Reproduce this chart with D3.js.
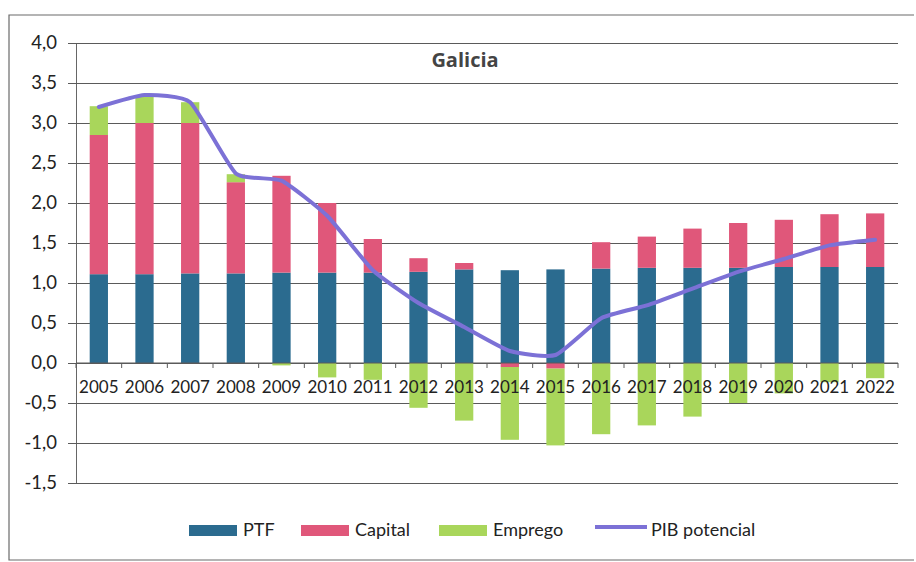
<!DOCTYPE html>
<html>
<head>
<meta charset="utf-8">
<script src="https://cdn.jsdelivr.net/npm/d3@7"></script>
<style>
  html, body { margin: 0; padding: 0; background: #fff; }
  svg { display: block; font-family: Lato, "Open Sans", sans-serif; }
</style>
</head>
<body>
<svg id="chart" width="916" height="562"></svg>
<script>
// Contributions to potential GDP growth, Galicia (percentage points)
const years = ["2005","2006","2007","2008","2009","2010","2011","2012","2013",
               "2014","2015","2016","2017","2018","2019","2020","2021","2022"];
const ptf     = [1.11,1.11,1.12,1.12,1.13,1.13,1.13,1.14,1.17,1.16,1.17,1.18,1.19,1.19,1.19,1.20,1.20,1.20];
const capital = [1.74,1.89,1.88,1.14,1.21,0.87,0.42,0.17,0.08,-0.05,-0.07,0.33,0.39,0.49,0.56,0.59,0.66,0.67];
const emprego = [0.36,0.33,0.26,0.10,-0.03,-0.18,-0.21,-0.56,-0.72,-0.91,-0.96,-0.89,-0.78,-0.67,-0.50,-0.38,-0.24,-0.19];
const pibPotencial = [3.20,3.35,3.26,2.37,2.28,1.84,1.16,0.75,0.45,0.15,0.10,0.56,0.72,0.93,1.14,1.30,1.47,1.54];
const yTicks = [-1.5,-1.0,-0.5,0,0.5,1.0,1.5,2.0,2.5,3.0,3.5,4.0];

const seriesNames = ["PTF","Capital","Emprego"];
const colors = { PTF: "#2b6b8f", Capital: "#e0577a", Emprego: "#a9d65b" };
const lineColor = "#7c71d6";

const svg = d3.select("#chart");
const plotLeft = 76, plotRight = 898, plotTop = 43, plotBottom = 483;

const x = d3.scaleBand().domain(years).range([plotLeft, plotRight])
  .paddingInner(0.6).paddingOuter(0.3);
const y = d3.scaleLinear().domain([-1.5, 4]).range([plotBottom, plotTop]);

// Outer chart frame
svg.append("path")
  .attr("d", "M914,15 H9 V560 H914")
  .attr("fill", "none").attr("stroke", "#6a6a6a").attr("stroke-width", 1.2);

// Horizontal gridlines with y axis labels
const yAxis = d3.axisLeft(y).tickValues(yTicks)
  .tickSize(-(plotRight - plotLeft))
  .tickPadding(19)
  .tickFormat(d => d3.format(".1f")(d).replace(".", ",").replace("−", "-"));
const gy = svg.append("g").attr("transform", `translate(${plotLeft},0)`).call(yAxis);
gy.select(".domain").attr("stroke", "#666");
gy.selectAll(".tick line").attr("stroke", "#5a5a5a").attr("stroke-width", 1).attr("x1", -8);
gy.selectAll(".tick text").attr("font-size", 18.5).attr("fill", "#222")
  .attr("font-family", "Lato, 'Open Sans', sans-serif");

// Stacked bars (positive values stacked upward, negatives downward)
const rows = years.map((yr, i) => ({ year: yr, PTF: ptf[i], Capital: capital[i], Emprego: emprego[i] }));
const stack = d3.stack().keys(seriesNames).offset(d3.stackOffsetDiverging);
const layers = stack(rows);

svg.append("g").selectAll("g")
  .data(layers).join("g")
  .attr("fill", d => colors[d.key])
  .selectAll("rect")
  .data(d => d).join("rect")
  .attr("x", d => x(d.data.year))
  .attr("width", x.bandwidth())
  .attr("y", d => y(Math.max(d[0], d[1])))
  .attr("height", d => Math.abs(y(d[0]) - y(d[1])));

// Category axis at zero
const gx = svg.append("g").attr("transform", `translate(0,${y(0)})`);
gx.append("line").attr("x1", plotLeft).attr("x2", plotRight).attr("y1", 0).attr("y2", 0)
  .attr("stroke", "#5a5a5a");
gx.selectAll("line.tk")
  .data(d3.range(years.length + 1)).join("line").attr("class", "tk")
  .attr("x1", i => plotLeft + i * x.step()).attr("x2", i => plotLeft + i * x.step())
  .attr("y1", 0).attr("y2", 5).attr("stroke", "#5a5a5a");
gx.selectAll("text.yr")
  .data(years).join("text").attr("class", "yr")
  .attr("x", d => x(d) + x.bandwidth() / 2)
  .attr("y", 30)
  .attr("text-anchor", "middle")
  .attr("font-size", 17).attr("fill", "#222")
  .text(d => d);

// Potential GDP smoothed line
const line = d3.line()
  .x((d, i) => x(years[i]) + x.bandwidth() / 2)
  .y(d => y(d))
  .curve(d3.curveCardinal.tension(0.5));
svg.append("path")
  .datum(pibPotencial)
  .attr("d", line)
  .attr("fill", "none")
  .attr("stroke", lineColor)
  .attr("stroke-width", 4)
  .attr("stroke-linejoin", "round")
  .attr("stroke-linecap", "round");

// Title
svg.append("text")
  .attr("x", 465).attr("y", 67)
  .attr("text-anchor", "middle")
  .attr("font-family", "'Open Sans', sans-serif")
  .attr("font-size", 20).attr("font-weight", "bold").attr("fill", "#444")
  .text("Galicia");

// Legend
const legendItems = [
  { name: "PTF", type: "rect", x: 189 },
  { name: "Capital", type: "rect", x: 301 },
  { name: "Emprego", type: "rect", x: 439 },
  { name: "PIB potencial", type: "line", x: 595 }
];
const lg = svg.append("g");
legendItems.forEach(it => {
  if (it.type === "rect") {
    lg.append("rect").attr("x", it.x).attr("y", 525).attr("width", 48).attr("height", 11)
      .attr("fill", colors[it.name]);
  } else {
    lg.append("line").attr("x1", it.x).attr("x2", it.x + 52).attr("y1", 527).attr("y2", 527)
      .attr("stroke", lineColor).attr("stroke-width", 4);
  }
  lg.append("text")
    .attr("x", it.x + (it.type === "rect" ? 54 : 56)).attr("y", 536)
    .attr("font-size", 18).attr("fill", "#222")
    .text(it.name);
});
</script>
</body>
</html>
